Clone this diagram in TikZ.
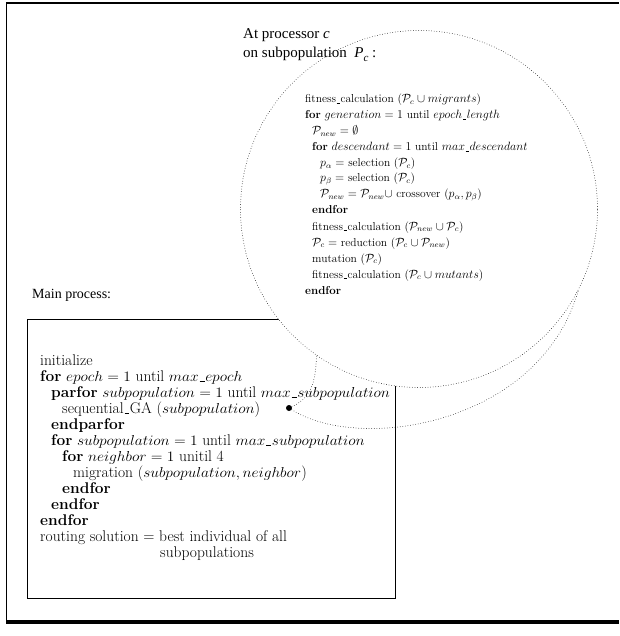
\documentclass[tikz,border=0pt]{standalone}
\usepackage{fontspec}
\usepackage{graphicx}
\newfontfamily\labfont{Liberation Serif}
\newcommand{\us}{\kern.06em\vbox{\hrule width.3em height.4pt}\kern.04em}
\newcommand{\mv}[1]{\scalebox{1.07}[1]{$#1$}}
\begin{document}
\begin{tikzpicture}[x=1pt,y=-1pt,
  ctext/.style={anchor=base west, inner sep=0pt, font=\fontsize{11.5}{13}\selectfont},
  mtext/.style={anchor=base west, inner sep=0pt, font=\fontsize{15.5}{17}\selectfont},
  lab/.style={anchor=base west, inner sep=0pt, font=\labfont\fontsize{15}{18}\selectfont},
  dotline/.style={line width=0.75pt, dash pattern=on 0pt off 2.6pt, line cap=round}]
\useasboundingbox (0,0) rectangle (619,636);
% outer frame
\draw[line width=1.5pt] (6,3) -- (619,3);
\draw[line width=0.8pt] (6,3) -- (6,622);
\draw[line width=3.5pt] (6,622) -- (619,622);
% main process
\node[lab, font=\labfont\fontsize{14}{17}\selectfont] (mainlab) at (32,298) {Main process:};
\node[draw, line width=0.9pt, minimum width=368pt, minimum height=279pt, anchor=north west, inner sep=0pt] (mainbox) at (27,319) {};
\node[mtext] (m1) at (40,365) {initialize};
\node[mtext] (m2) at (40,381) {\textbf{for} \mv{epoch = 1} until \mv{max\us epoch}};
\node[mtext] (m3) at (51,397) {\textbf{parfor} \mv{subpopulation = 1} until \mv{max\us subpopulation}};
\node[mtext] (m4) at (62,413) {sequential\us GA (\mv{subpopulation})};
\node[mtext] (m5) at (51,429) {\textbf{endparfor}};
\node[mtext] (m6) at (51,445) {\textbf{for} \mv{subpopulation = 1} until \mv{max\us subpopulation}};
\node[mtext] (m7) at (62,461) {\textbf{for} \mv{neighbor = 1} unitil 4};
\node[mtext] (m8) at (73,477) {migration (\mv{subpopulation, neighbor})};
\node[mtext] (m9) at (62,493) {\textbf{endfor}};
\node[mtext] (m10) at (51,509) {\textbf{endfor}};
\node[mtext] (m11) at (40,525) {\textbf{endfor}};
\node[mtext] (m12) at (40,541) {routing solution = best individual of all};
\node[mtext] (m13) at (160,557) {subpopulations};
% lens circle
\node[circle, draw, dotline, fill=white, minimum size=357pt, inner sep=0pt] (lens) at (419,209) {};
\node[lab] (clab1) at (243,39) {At processor \textit{c}};
\node[lab] (clab2) at (243,58) {on subpopulation \ \textit{P}\raisebox{-0.45ex}{\fontsize{11}{12}\selectfont\textit{c}}\ :};
\node[ctext] (c1) at (305,103) {fitness\us calculation ($\mathcal{P}_c \cup migrants$)};
\node[ctext] (c2) at (305,119) {\textbf{for} $generation = 1$ until $epoch\us length$};
\node[ctext] (c3) at (312,135) {$\mathcal{P}_{new} = \emptyset$};
\node[ctext] (c4) at (312,151) {\textbf{for} $descendant = 1$ until $max\us descendant$};
\node[ctext] (c5) at (320,167) {$p_\alpha =$ selection ($\mathcal{P}_c$)};
\node[ctext] (c6) at (320,182) {$p_\beta =$ selection ($\mathcal{P}_c$)};
\node[ctext] (c7) at (320,198) {$\mathcal{P}_{new} = \mathcal{P}_{new} \cup$ crossover ($p_\alpha, p_\beta$)};
\node[ctext] (c8) at (312,214) {\textbf{endfor}};
\node[ctext] (c9) at (312,230) {fitness\us calculation ($\mathcal{P}_{new} \cup \mathcal{P}_c$)};
\node[ctext] (c10) at (312,246) {$\mathcal{P}_c =$ reduction ($\mathcal{P}_c \cup \mathcal{P}_{new}$)};
\node[ctext] (c11) at (312,262) {mutation ($\mathcal{P}_c$)};
\node[ctext] (c12) at (312,278) {fitness\us calculation ($\mathcal{P}_c \cup mutants$)};
\node[ctext] (c13) at (305,294) {\textbf{endfor}};
% spot and tails
\node[circle, fill=black, minimum size=6pt, inner sep=0pt] (spot) at (289,408) {};
\draw[dotline] (spot) .. controls (306,400) and (316,390) .. (lens.235.5);
\draw[dotline] (spot) .. controls (360,453) and (540,425) .. (lens.333);
\end{tikzpicture}
\end{document}
